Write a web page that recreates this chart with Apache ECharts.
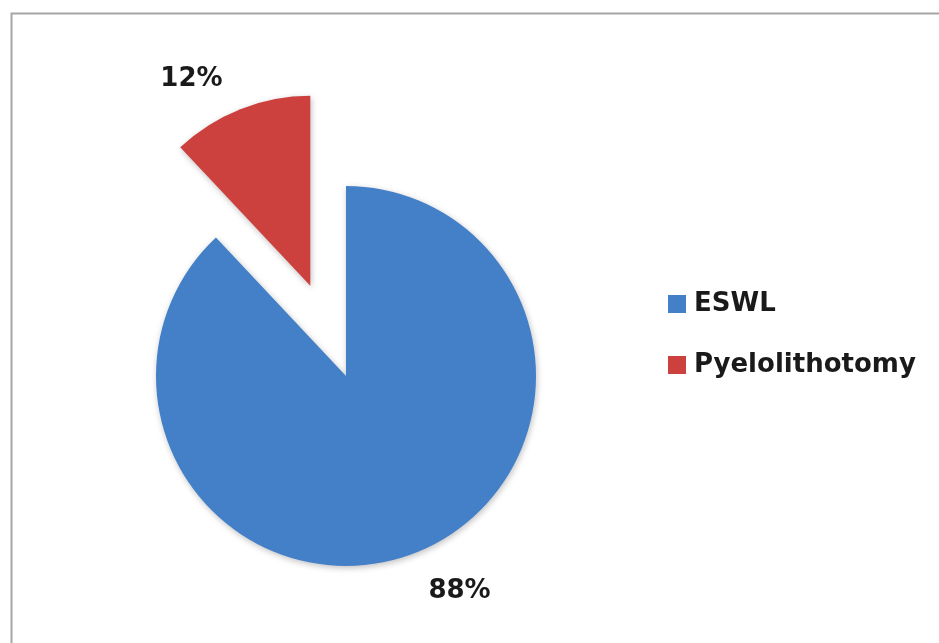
<!DOCTYPE html>
<html>
<head>
<meta charset="utf-8">
<script src="https://cdn.jsdelivr.net/npm/echarts@6/dist/echarts.min.js"></script>
<style>html,body{margin:0;padding:0;background:#fff}#c{width:939px;height:643px}</style>
</head>
<body>
<div id="c"></div>
<script>
var categories = ['ESWL', 'Pyelolithotomy'];
var values = [88, 12];
var colors = ['#4380C7', '#CC403D'];

var chart = echarts.init(document.getElementById('c'));
var data = categories.map(function (name, i) {
  return {
    name: name,
    value: values[i],
    selected: i === 1,
    itemStyle: { color: colors[i] },
    labelLine: { length: i === 0 ? 42 : 32, length2: 4 }
  };
});
chart.setOption({
  animation: false,
  graphic: [{
    type: 'rect',
    shape: { x: 11.5, y: 13.5, width: 1000, height: 1000 },
    style: { fill: 'none', stroke: '#a6a6a6', lineWidth: 2 },
    silent: true
  }],
  legend: {
    orient: 'vertical',
    left: 663,
    top: 284,
    icon: 'rect',
    itemWidth: 18,
    itemHeight: 18,
    itemGap: 31,
    selectedMode: false,
    textStyle: { fontFamily: 'DejaVu Sans', fontWeight: 'bold', fontSize: 26, color: '#1a1a1a', lineHeight: 30, padding: [0, 0, 0, 3] },
    data: categories
  },
  series: [{
    type: 'pie',
    center: [346, 376],
    radius: [0, 190],
    startAngle: 90,
    clockwise: true,
    selectedMode: 'single',
    selectedOffset: 97,
    avoidLabelOverlap: false,
    itemStyle: {
      shadowBlur: 6,
      shadowColor: 'rgba(0,0,0,0.25)',
      shadowOffsetX: 1,
      shadowOffsetY: 2
    },
    label: {
      show: true,
      position: 'outside',
      formatter: '{d}%',
      fontFamily: 'DejaVu Sans',
      fontWeight: 'bold',
      fontSize: 26,
      color: '#1a1a1a'
    },
    labelLine: { show: false },
    labelLayout: function (params) {
      return params.dataIndex === 0 ? { dx: -12 } : { dx: 3 };
    },
    emphasis: { disabled: true },
    data: data
  }]
});
</script>
</body>
</html>
